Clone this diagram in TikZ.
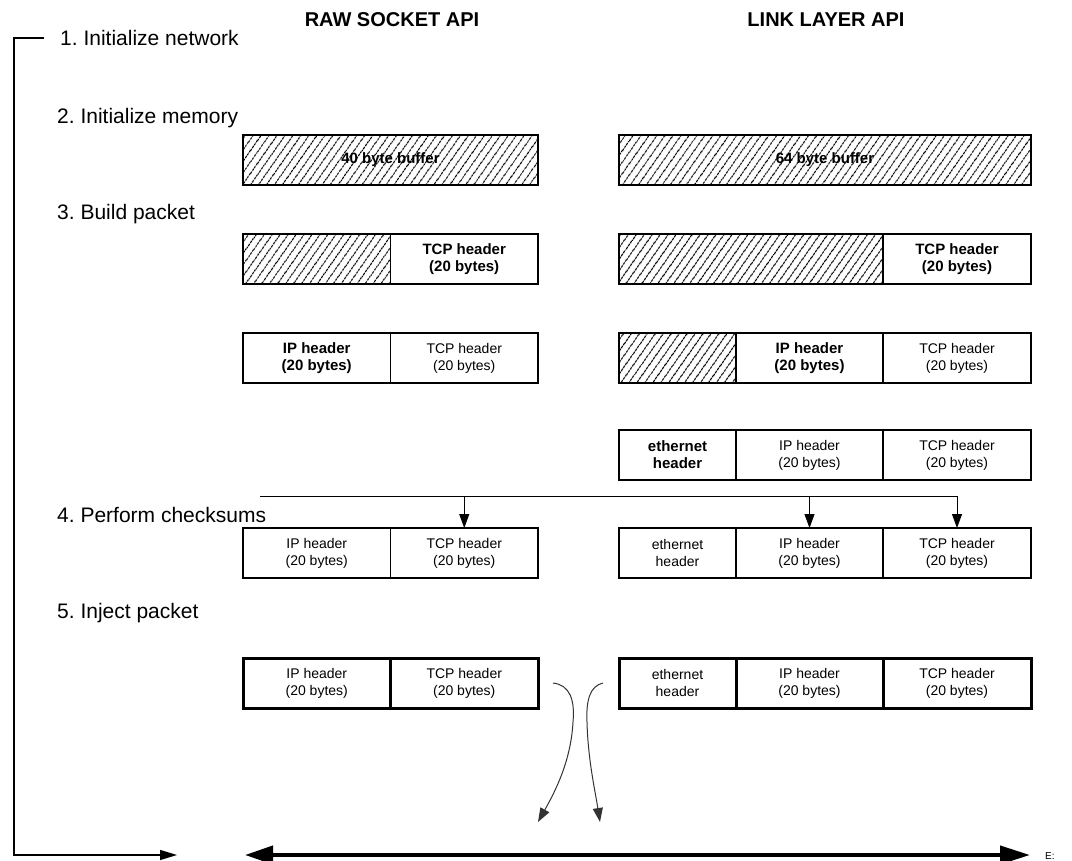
\documentclass[tikz,border=0pt]{standalone}
\usepackage{fontspec}
\setmainfont{Liberation Sans}
\usetikzlibrary{arrows.meta,patterns.meta,positioning}
\frenchspacing

\begin{document}
\begin{tikzpicture}[x=1pt,y=-1pt]
        \tikzstyle{steplabel}=[anchor=west, inner sep=0pt, font=\fontsize{21}{25}\selectfont];
        \tikzstyle{api}=[inner sep=0pt, font=\bfseries\fontsize{20}{24}\selectfont];
        \tikzstyle{cell}=[draw, line width=1.2pt, outer sep=0pt, inner sep=0pt, minimum height=50pt, align=center, font=\fontsize{14}{17}\selectfont];
        \tikzstyle{boldcell}=[cell, font=\bfseries\fontsize{15}{17}\selectfont];
        \tikzstyle{hatch}=[boldcell, pattern={Lines[angle=55,distance=6.5pt,line width=1pt]}];
        \tikzstyle{sent}=[cell, line width=3pt];
        \tikzstyle{tip}=[-{Triangle[length=14pt,width=10pt]}];
        \useasboundingbox (0,0) rectangle (1072,861);

        % steps
        \node[steplabel] (s1) at (60,38) {1. Initialize network};
        \node[steplabel] (s2) at (57,118) {2. Initialize memory};
        \node[steplabel] (s3) at (57,214) {3. Build packet};
        \node[steplabel] (s4) at (57,515) {4. Perform checksums};
        \node[steplabel] (s5) at (57,613) {5. Inject packet};

        \node[api] (raw) at (392,20) {RAW SOCKET API};
        \node[api] (link) at (826,20) {LINK LAYER API};

        % raw socket column
        \node[hatch, anchor=north west, minimum width=295pt] (buf40) at (243,135) {40 byte buffer};
        \node[hatch, anchor=north west, minimum width=147.5pt] (padA) at (243,234) {};
        \node[boldcell, minimum width=147.5pt, right=0pt of padA] (tcpA) {TCP header\\(20 bytes)};
        \node[boldcell, anchor=north west, minimum width=147.5pt] (ipB) at (243,333) {IP header\\(20 bytes)};
        \node[cell, minimum width=147.5pt, right=0pt of ipB] (tcpB) {TCP header\\ (20 bytes)};
        \node[cell, anchor=north west, minimum width=147.5pt] (ipC) at (243,528) {IP header\\(20 bytes)};
        \node[cell, minimum width=147.5pt, right=0pt of ipC] (tcpC) {TCP header\\ (20 bytes)};
        \node[sent, anchor=north west, minimum width=147.5pt] (ipD) at (243,658) {IP header\\(20 bytes)};
        \node[sent, minimum width=147.5pt, right=0pt of ipD] (tcpD) {TCP header\\ (20 bytes)};

        % link layer column
        \node[hatch, anchor=north west, minimum width=412pt] (buf64) at (619,135) {64 byte buffer};
        \node[hatch, anchor=north west, minimum width=264pt] (padE) at (619,234) {};
        \node[boldcell, minimum width=148pt, right=0pt of padE] (tcpE) {TCP header\\(20 bytes)};
        \node[hatch, anchor=north west, minimum width=117pt] (padF) at (619,333) {};
        \node[boldcell, minimum width=147pt, right=0pt of padF] (ipF) {IP header\\(20 bytes)};
        \node[cell, minimum width=148pt, right=0pt of ipF] (tcpF) {TCP header\\ (20 bytes)};
        \node[boldcell, anchor=north west, minimum width=117pt] (ethG) at (619,430) {ethernet\\header};
        \node[cell, minimum width=147pt, right=0pt of ethG] (ipG) {IP header\\(20 bytes)};
        \node[cell, minimum width=148pt, right=0pt of ipG] (tcpG) {TCP header\\ (20 bytes)};
        \node[cell, anchor=north west, minimum width=117pt] (ethH) at (619,528) {ethernet\\header};
        \node[cell, minimum width=147pt, right=0pt of ethH] (ipH) {IP header\\(20 bytes)};
        \node[cell, minimum width=148pt, right=0pt of ipH] (tcpH) {TCP header\\ (20 bytes)};
        \node[sent, anchor=north west, minimum width=117pt] (ethI) at (619,658) {ethernet\\header};
        \node[sent, minimum width=147pt, right=0pt of ethI] (ipI) {IP header\\(20 bytes)};
        \node[sent, minimum width=148pt, right=0pt of ipI] (tcpI) {TCP header\\ (20 bytes)};

        % checksums
        \coordinate (ck) at (260,496);
        \draw[line width=1pt, tip] (ck) -| (tcpH.north);
        \draw[line width=1pt, tip] (tcpC.north |- ck) -- (tcpC.north);
        \draw[line width=1pt, tip] (ipH.north |- ck) -- (ipH.north);

        % injection onto the wire
        \coordinate (outA) at (553,683);
        \coordinate (inA) at (538,822);
        \coordinate (outB) at (603,683);
        \coordinate (inB) at (600,822);
        \draw[black!80, line width=1pt, tip] (outA) .. controls (570,685) and (575,700) .. (573,722) .. controls (571,760) and (556,790) .. (inA);
        \draw[black!80, line width=1pt, tip] (outB) .. controls (590,686) and (586,700) .. (587,722) .. controls (588,760) and (595,790) .. (inB);

        \coordinate (wireL) at (245,855);
        \coordinate (wireR) at (1030,855);
        \draw[line width=4pt, {Triangle[length=28pt,width=18pt]}-{Triangle[length=30pt,width=18pt]}] (wireL) -- (wireR);
        \node[anchor=base west, inner sep=0pt, font=\fontsize{10}{12}\selectfont] (cut) at (1045,859) {E:};

        % loop back
        \coordinate (loopin) at (177,855);
        \draw[line width=1.3pt, -{Triangle[length=17pt,width=10pt]}] ([xshift=-16pt]s1.west) -| (14,855) -- (loopin);
\end{tikzpicture}
\end{document}
